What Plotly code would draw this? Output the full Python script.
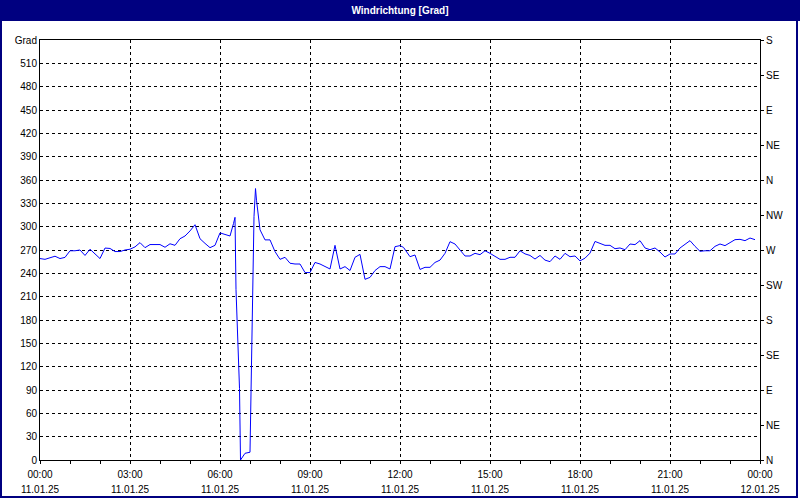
import plotly.graph_objects as go

# time in minutes since 11.01.25 00:00
minutes = [0, 10, 20, 30, 40, 50, 60, 70, 80, 90, 100, 110, 120, 130, 140, 150, 160, 170, 180, 190,
           200, 210, 220, 230, 240, 250, 260, 270, 280, 290, 300, 310, 320, 330, 340, 350, 360, 370, 380,
           387, 390, 392, 399, 401, 410, 420, 423, 427, 428, 431, 433, 440, 450, 460, 470, 480, 490, 500,
           510, 520, 530, 540, 550, 560, 570, 580, 590, 600, 610, 620, 630, 640, 650, 660, 670, 680, 690,
           700, 710, 720, 727, 740, 750, 760, 770, 780, 790, 800, 810, 820, 830, 840, 850, 860, 870, 880,
           890, 900, 910, 920, 930, 940, 950, 960, 970, 980, 990, 1000, 1010, 1020, 1030, 1040, 1050, 1060,
           1070, 1080, 1090, 1100, 1110, 1120, 1130, 1140, 1150, 1160, 1170, 1180, 1190, 1200, 1210, 1220,
           1230, 1240, 1250, 1260, 1270, 1280, 1290, 1300, 1310, 1320, 1330, 1340, 1350, 1360, 1370, 1380,
           1390, 1400, 1410, 1420, 1430]
direction = [259, 258, 260, 262, 259, 260.5, 269, 269, 270, 263, 271, 264.5, 259, 272.5, 272, 268, 268, 270, 271, 274,
             279.5, 273, 277, 277, 277, 273.5, 278, 276, 284.5, 288, 294.5, 302.5, 284.5, 278.5, 273, 276, 292, 290, 288,
             304, 312, 219, 92, 0, 8.6, 10, 114, 244, 313, 349, 334, 296, 283, 283, 268, 258, 260.6, 253,
             252, 252, 241, 241, 254, 252, 248.6, 245.6, 276, 245.6, 248.6, 243.6, 260.6, 264.4, 232.3, 234.8, 243.6, 248.6, 248.6,
             245.6, 274.3, 275.6, 273.4, 261.4, 263.6, 245, 247.7, 247.7, 254, 257, 265.7, 280.7, 277.7, 270, 262.3, 262.3, 265.7, 264,
             269, 265.7, 261.4, 258, 258, 260.6, 260.6, 269, 265, 263, 258.4, 263, 257, 255, 262.3, 258, 265.7, 261.4,
             262.3, 256, 259.5, 266, 281, 279, 276, 276, 271.7, 272.6, 270.4, 277.7, 276.9, 282, 272.6, 270.4,
             272.6, 267.4, 261, 264.9, 264.9, 272.6, 276.9, 282, 274.7, 268.3, 269, 269, 274.7, 277.7, 275.6, 279,
             283.3, 283.7, 282, 285.4, 283.3]

title_text = "Windrichtung [Grad]"
left_vals = list(range(0, 541, 30))
left_text = [str(v) for v in left_vals[:-1]] + ["Grad"]
right_vals = list(range(0, 541, 45))
right_text = ["N", "NE", "E", "SE", "S", "SW", "W", "NW", "N", "NE", "E", "SE", "S"]
x_vals = list(range(0, 1441, 180))
x_times = ["00:00", "03:00", "06:00", "09:00", "12:00", "15:00", "18:00", "21:00", "00:00"]
x_dates = ["11.01.25"] * 8 + ["12.01.25"]
SP = "<span style='font-size:10px'>{}</span>"
x_text = [SP.format(t) + "<br>" + SP.format(d) for t, d in zip(x_times, x_dates)]
minor_vals = list(range(0, 1441, 60))

FONT = "Liberation Sans"
NAVY = "#000080"

fig = go.Figure()
fig.add_trace(go.Scatter(x=minutes, y=direction, mode="lines",
                         line=dict(color="#0000ff", width=1), showlegend=False, hoverinfo="skip"))
fig.add_trace(go.Scatter(x=[minutes[0]], y=[direction[0]], yaxis="y2", mode="markers",
                         marker=dict(opacity=0), showlegend=False, hoverinfo="skip"))

W, H = 800, 500
L, R, T, B = 40, 40, 40, 40
pw, ph = W - L - R, H - T - B


def px(x):
    return (x - L) / pw


def py(y):
    return (H - B - y) / ph


fig.update_layout(
    width=W, height=H,
    margin=dict(l=L, r=R, t=T, b=B, pad=0, autoexpand=False),
    paper_bgcolor="white", plot_bgcolor="white",
    font=dict(family=FONT, size=10, color="black"),
    title=dict(text=f"<b>{title_text}</b>", x=0.5, xanchor="center", xref="paper",
               y=1 - 10.5 / H, yanchor="middle", yref="container",
               font=dict(family=FONT, size=10, color="white"), automargin=False),
    xaxis=dict(range=[0, 1440], tickmode="array", tickvals=x_vals, ticktext=x_text,
               tickfont=dict(size=11.5),
               showgrid=True, gridcolor="black", gridwidth=1, griddash="3px,3px",
               showline=True, linecolor="black", linewidth=1, mirror=True,
               ticks="outside", ticklen=3, tickcolor="black",
               minor=dict(tickmode="array", tickvals=minor_vals, ticks="outside", ticklen=3,
                          tickcolor="black", showgrid=False),
               zeroline=False, fixedrange=True, automargin=False),
    yaxis=dict(range=[0, 540], tickmode="array", tickvals=left_vals, ticktext=left_text,
               showgrid=True, gridcolor="black", gridwidth=1, griddash="3px,3px",
               showline=True, linecolor="black", linewidth=1, mirror=True,
               ticks="", zeroline=False, fixedrange=True, automargin=False),
    yaxis2=dict(range=[0, 540], overlaying="y", side="right", tickmode="array",
                tickvals=right_vals, ticktext=right_text, showgrid=False, zeroline=False,
                ticks="outside", ticklen=3, tickcolor="black", showline=False, fixedrange=True,
                automargin=False),
    shapes=[
        dict(type="rect", xref="paper", yref="paper", x0=px(0), x1=px(W), y0=py(21), y1=py(0),
             fillcolor=NAVY, line=dict(width=0), layer="above"),
        dict(type="rect", xref="paper", yref="paper", x0=px(1), x1=px(797), y0=py(497), y1=py(1),
             fillcolor="rgba(0,0,0,0)", line=dict(color=NAVY, width=2), layer="above"),
    ],
)

fig.write_html("out.html", config={"displayModeBar": False},
               post_script="document.body.style.margin='0';document.body.style.padding='0';"
                           "document.body.style.overflow='hidden';")
